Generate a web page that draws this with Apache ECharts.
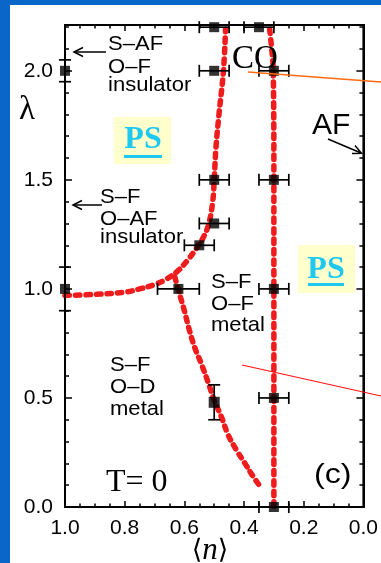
<!DOCTYPE html>
<html>
<head>
<meta charset="utf-8">
<script src="https://cdn.jsdelivr.net/npm/echarts@6/dist/echarts.min.js"></script>
<style>
  html, body { margin: 0; padding: 0; background: #0a66c8; }
  #panel { position: absolute; left: 10px; top: 5px; right: 0; bottom: 0; background: #ffffff; }
  #chart { position: absolute; left: 0; top: 0; width: 381px; height: 563px; }
</style>
</head>
<body>
<div id="panel"></div>
<div id="chart"></div>
<script>
// Measured transition points (filling <n>, coupling lambda) with error bars
const pointN      = [1.0, 1.0, 0.5, 0.35, 0.5, 0.3, 0.5, 0.3, 0.5, 0.55, 0.62, 0.3, 0.5, 0.3, 0.3];
const pointLambda = [2.0, 1.0, 2.2, 2.2, 2.0, 2.0, 1.5, 1.5, 1.3, 1.2, 1.0, 1.0, 0.48, 0.5, 0.0];
const errN        = [0, 0, 0.05, 0.05, 0.05, 0.05, 0.05, 0.05, 0.05, 0.05, 0.07, 0.05, 0, 0.05, 0.05];
const errLambda   = [0.05, 0.1, 0, 0, 0, 0, 0, 0, 0, 0, 0, 0, 0.08, 0, 0];

// Phase boundaries (dashed curves)
const upperN      = [1.0, 0.9, 0.8, 0.75, 0.7, 0.66, 0.62, 0.59, 0.56, 0.535, 0.518, 0.505, 0.5, 0.494, 0.484, 0.469, 0.462];
const upperLambda = [0.97, 0.975, 0.985, 1.0, 1.02, 1.045, 1.085, 1.13, 1.185, 1.24, 1.3, 1.4, 1.5, 1.65, 1.8, 2.0, 2.19];
const lowerN      = [0.632, 0.62, 0.6, 0.583, 0.565, 0.544, 0.52, 0.5, 0.475, 0.453, 0.425, 0.397, 0.372, 0.349];
const lowerLambda = [1.055, 0.995, 0.9, 0.81, 0.73, 0.66, 0.57, 0.49, 0.41, 0.33, 0.26, 0.2, 0.145, 0.10];
const rightN      = [0.314, 0.306, 0.302, 0.3, 0.3];
const rightLambda = [2.19, 2.08, 2.0, 1.5, 0.0];

// Axis ranges and ticks
const nRange = [0, 1];
const lambdaRange = [0, 2.21];
const nMajor = 0.2;
const lambdaMajor = 0.5;
const lambdaMinor = 0.1;

const SANS = "'Liberation Sans', Arial, Helvetica, sans-serif";
const SERIF = "'Liberation Serif', 'Times New Roman', serif";
const RED = '#ee1c1c';
const PS_BLUE = '#1ec8f0';

const zip = (a, b) => a.map((v, i) => [v, b[i]]);

const chart = echarts.init(document.getElementById('chart'), null, { renderer: 'canvas' });

const xBase = {
  type: 'value', min: nRange[0], max: nRange[1], interval: nMajor, inverse: true,
  axisLine: { show: true, onZero: false, lineStyle: { color: '#000', width: 2 } },
  axisTick: { show: true, inside: true, length: 6, lineStyle: { color: '#000', width: 1.5 } },
  minorTick: { show: true, splitNumber: 4, length: 3.5, lineStyle: { color: '#000', width: 1.5 } },
  splitLine: { show: false }, minorSplitLine: { show: false }
};
const yBase = {
  type: 'value', min: lambdaRange[0], max: lambdaRange[1],
  axisLine: { show: true, onZero: false, lineStyle: { color: '#000', width: 2 } },
  splitLine: { show: false }
};
const majorTick = { show: true, inside: true, length: 7, lineStyle: { color: '#000', width: 1.5 } };
const minorTickAsAxis = { show: true, inside: true, length: 4, lineStyle: { color: '#000', width: 1.5 } };

const halfStep = v => Math.abs(v / lambdaMajor - Math.round(v / lambdaMajor)) < 1e-6;

function textEl(text, x, y, font, opts) {
  return Object.assign({
    type: 'text', z: 50,
    style: Object.assign({
      text: text, x: x, y: y, fill: '#000', font: font,
      textAlign: 'left', textVerticalAlign: 'middle'
    }, (opts && opts.style) || {})
  }, (opts && opts.el) || {});
}
function lineEl(x1, y1, x2, y2, color, w) {
  return { type: 'line', z: 50, shape: { x1, y1, x2, y2 }, style: { stroke: color, lineWidth: w } };
}
function arrowHead(pts, color, w) {
  return { type: 'polyline', z: 50, shape: { points: pts }, style: { stroke: color, lineWidth: w, fill: null } };
}
const sansLabel = (t, x, y) => textEl(t, x, y, '21px ' + SANS, { el: { scaleX: 1.05, originX: x, originY: y } });
const psLabel = (x, y) => textEl('PS', x, y, 'bold 32px ' + SERIF, { style: { textAlign: 'center', fill: PS_BLUE } });

const option = {
  animation: false,
  backgroundColor: 'transparent',
  grid: { left: 65, right: 9, top: 25, bottom: 56, show: true, borderColor: '#000', borderWidth: 2, backgroundColor: 'transparent' },
  xAxis: [
    Object.assign({}, xBase, {
      position: 'bottom',
      axisLabel: { show: true, margin: 11, color: '#000', fontFamily: SANS, fontSize: 21, formatter: v => v.toFixed(1) }
    }),
    Object.assign({}, xBase, { position: 'top', axisLabel: { show: false } })
  ],
  yAxis: [
    Object.assign({}, yBase, {
      position: 'left', interval: lambdaMajor, axisTick: majorTick,
      axisLabel: { show: true, margin: 12, color: '#000', fontFamily: SANS, fontSize: 21, showMaxLabel: false,
        formatter: v => halfStep(v) ? v.toFixed(1) : '' }
    }),
    Object.assign({}, yBase, { position: 'left', interval: lambdaMinor, axisTick: minorTickAsAxis, axisLabel: { show: false } }),
    Object.assign({}, yBase, { position: 'right', interval: lambdaMajor, axisTick: majorTick, axisLabel: { show: false } }),
    Object.assign({}, yBase, { position: 'right', interval: lambdaMinor, axisTick: minorTickAsAxis, axisLabel: { show: false } })
  ],
  series: [
    ...[[upperN, upperLambda], [lowerN, lowerLambda], [rightN, rightLambda]].map(([ns, ls]) => ({
      type: 'line', xAxisIndex: 0, yAxisIndex: 0, data: zip(ns, ls), smooth: 0.4,
      showSymbol: false, symbol: 'none', clip: false, z: 3,
      lineStyle: { color: RED, width: 5.5, type: [4.5, 6], cap: 'round' }
    })),
    {
      type: 'custom', xAxisIndex: 0, yAxisIndex: 0, z: 4, clip: false,
      data: pointN.map((n, i) => [n, pointLambda[i], errN[i], errLambda[i]]),
      encode: { x: 0, y: 1 },
      renderItem: (params, api) => {
        const n = api.value(0), l = api.value(1), en = api.value(2), el = api.value(3);
        const cap = 6;
        const st = { stroke: '#000', lineWidth: 1.7 };
        const kids = [];
        if (en > 0) {
          const a = api.coord([n + en, l]), b = api.coord([n - en, l]);
          kids.push({ type: 'line', shape: { x1: a[0], y1: a[1], x2: b[0], y2: b[1] }, style: st });
          kids.push({ type: 'line', shape: { x1: a[0], y1: a[1] - cap, x2: a[0], y2: a[1] + cap }, style: st });
          kids.push({ type: 'line', shape: { x1: b[0], y1: b[1] - cap, x2: b[0], y2: b[1] + cap }, style: st });
        }
        if (el > 0) {
          const a = api.coord([n, l + el]), b = api.coord([n, l - el]);
          kids.push({ type: 'line', shape: { x1: a[0], y1: a[1], x2: b[0], y2: b[1] }, style: st });
          kids.push({ type: 'line', shape: { x1: a[0] - cap, y1: a[1], x2: a[0] + cap, y2: a[1] }, style: st });
          kids.push({ type: 'line', shape: { x1: b[0] - cap, y1: b[1], x2: b[0] + cap, y2: b[1] }, style: st });
        }
        return { type: 'group', children: kids };
      }
    },
    {
      type: 'scatter', xAxisIndex: 0, yAxisIndex: 0, z: 5, clip: false,
      symbol: 'rect',
      symbolSize: (val, p) => (errLambda[p.dataIndex] > 0 && pointN[p.dataIndex] < 1 ? 11 : 10),
      itemStyle: { color: '#000' },
      data: zip(pointN, pointLambda)
    }
  ],
  graphic: [
    // axis titles
    textEl('λ', 19, 110, '33px ' + SERIF),
    {
      type: 'text', z: 50,
      style: {
        x: 210, y: 551, textAlign: 'center', textVerticalAlign: 'middle',
        text: '{a|⟨}{b|n}{a|⟩}',
        rich: {
          a: { fontFamily: "'DejaVu Serif', " + SERIF, fontSize: 27, fill: '#000' },
          b: { fontFamily: SERIF, fontSize: 31, fontStyle: 'italic', fill: '#000' }
        }
      }
    },
    // phase labels
    sansLabel('S–AF', 108, 44.5), sansLabel('O–F', 108, 67.5), sansLabel('insulator', 108, 85.5),
    lineEl(74, 52, 106, 52, '#000', 1.5), arrowHead([[83, 47.5], [74, 52], [83, 56.5]], '#000', 1.5),
    sansLabel('S–F', 100, 197.5), sansLabel('O–AF', 100, 219.5), sansLabel('insulator', 100, 237.5),
    lineEl(73, 205, 102, 205, '#000', 1.5), arrowHead([[82, 200.5], [73, 205], [82, 209.5]], '#000', 1.5),
    sansLabel('S–F', 211, 282.5), sansLabel('O–F', 211, 304.5), sansLabel('metal', 211, 325.5),
    sansLabel('S–F', 110, 365.5), sansLabel('O–D', 110, 387.5), sansLabel('metal', 110, 409.5),
    textEl('CO', 232, 59, '33px ' + SERIF),
    textEl('AF', 312, 126, '30px ' + SANS),
    lineEl(328, 139, 361, 153, '#000', 1.5), arrowHead([[352, 153.5], [361.5, 153.3], [355, 145.5]], '#000', 1.5),
    textEl('T= 0', 106, 482.5, '32px ' + SERIF),
    textEl('(c)', 314, 475, '28px ' + SANS, { el: { scaleX: 1.15, originX: 314, originY: 475 } }),
    // phase-separation boxes
    { type: 'rect', z: 40, shape: { x: 114, y: 117, width: 57, height: 47 }, style: { fill: '#ffffcc' } },
    psLabel(143, 140),
    { type: 'rect', z: 41, shape: { x: 124, y: 155, width: 38, height: 3 }, style: { fill: PS_BLUE } },
    { type: 'rect', z: 40, shape: { x: 298, y: 245, width: 57, height: 48 }, style: { fill: '#ffffcc' } },
    psLabel(326, 269.5),
    { type: 'rect', z: 41, shape: { x: 308, y: 283, width: 36, height: 3 }, style: { fill: PS_BLUE } },
    // pointer lines
    lineEl(248, 72, 381, 82, '#ff6a10', 1.5),
    lineEl(242, 365, 381, 396, '#ff1010', 1.2)
  ]
};

chart.setOption(option);
</script>
</body>
</html>
